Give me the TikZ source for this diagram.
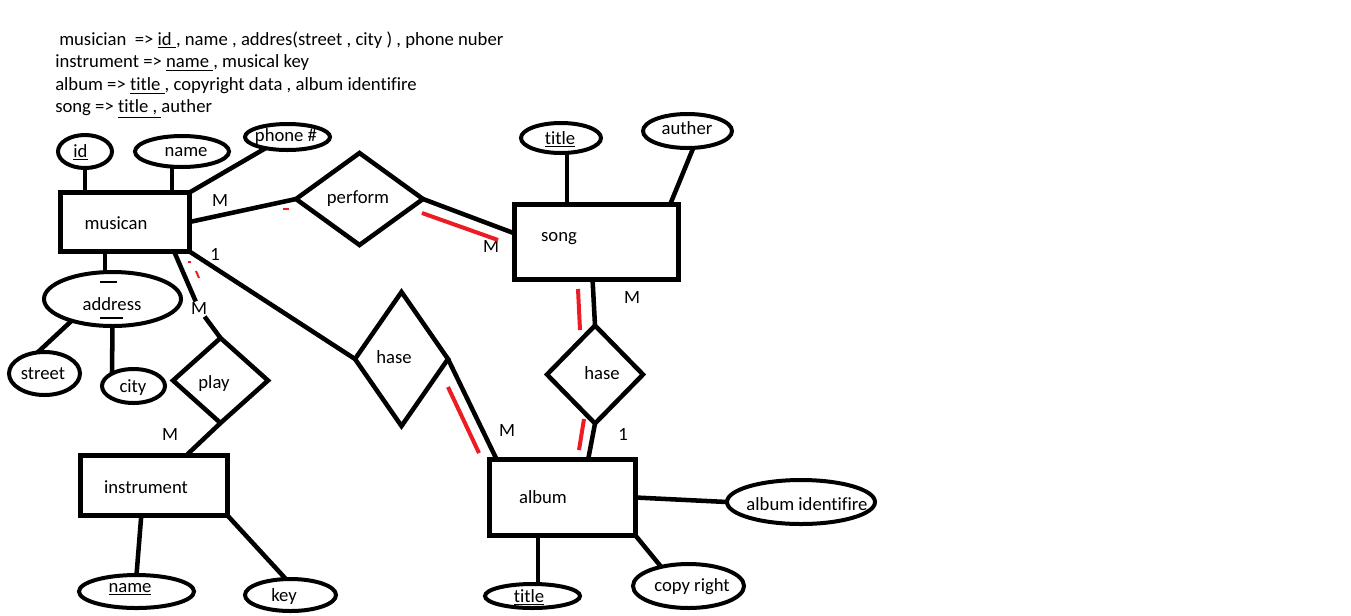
\documentclass[tikz,border=0pt]{standalone}
\usepackage{fontspec}
\setmainfont{Carlito}[Ligatures=NoCommon]
\usepackage{tikz}
\usetikzlibrary{positioning, shapes.geometric}
\definecolor{ERred}{HTML}{ED1C24}

\begin{document}
\begin{tikzpicture}[
  x=0.75pt, y=-0.75pt,
  font=\fontsize{14pt}{17pt}\selectfont,
  entity/.style={draw, line width=3.6pt, inner sep=0pt, outer sep=0pt},
  attr/.style={draw, ellipse, line width=3pt, inner sep=0pt, outer sep=0pt},
  rel/.style={draw, diamond, line width=3.4pt, inner sep=0pt, outer sep=0pt},
  txt/.style={inner sep=0pt},
  card/.style={inner sep=1pt},
  hdr/.style={anchor=west, inner sep=0pt},
  conn/.style={line width=3.4pt},
  partline/.style={ERred, line width=3pt},
  scrap/.style={line width=1.5pt},
]
\fill[white] (0,0) rectangle (1351,615);
\useasboundingbox (0,0) rectangle (1351,615);

\node[hdr] (hdrMusician) at (59,40)
  {musician\ \ => \underline{id\ }, name , addres(street , city ) , phone nuber};
\node[hdr] (hdrInstrument) at (55,63) {instrument => \underline{name\ }, musical key};
\node[hdr] (hdrAlbum) at (55,86) {album => \underline{title\ }, copyright data , album identifire};
\node[hdr] (hdrSong) at (55,109) {song => \underline{title ,\ }auther};

\node[entity, minimum width=96.75pt, minimum height=44.25pt] (musician) at (125,222) {};
\node[txt] (musicianTxt) at (116,223) {musican};
\node[entity, minimum width=123pt, minimum height=56.25pt] (song) at (596.5,242) {};
\node[txt] (songTxt) at (559,239) {song};
\node[entity, minimum width=109.5pt, minimum height=57pt] (album) at (562.5,497.5) {};
\node[txt] (albumTxt) at (543,497) {album};
\node[entity, minimum width=110.25pt, minimum height=45pt] (instrument) at (154,485.5) {};
\node[txt] (instrumentTxt) at (146,487) {instrument};

\node[attr, minimum width=40.5pt, minimum height=24.75pt] (id) at (85,151.5) {};
\node[txt] (idTxt) at (80.5,152) {\underline{id}};
\node[attr, minimum width=70.5pt, minimum height=23.25pt] (name) at (182,151.5) {};
\node[txt] (nameTxt) at (186,152) {name};
\node[attr, minimum width=63.75pt, minimum height=19.5pt] (phone) at (287.5,137) {};
\node[txt] (phoneTxt) at (286,137) {phone \#};
\node[attr, minimum width=102.75pt, minimum height=40.5pt] (address) at (112.5,299) {};
\node[txt] (addressTxt) at (112,304) {address};
\node[attr, minimum width=53.25pt, minimum height=32.25pt] (street) at (44.5,373.5) {};
\node[txt] (streetTxt) at (43,374) {street};
\node[attr, minimum width=47.25pt, minimum height=25.5pt] (city) at (133.5,386) {};
\node[txt] (cityTxt) at (133,388) {city};
\node[attr, minimum width=60pt, minimum height=22.5pt] (songTitle) at (561,138) {};
\node[txt] (songTitleTxt) at (560,139) {\underline{title}};
\node[attr, minimum width=66.75pt, minimum height=25.5pt] (auther) at (687.5,131) {};
\node[txt] (autherTxt) at (687,128) {auther};
\node[attr, minimum width=86.25pt, minimum height=24.75pt] (instName) at (136.5,591.5) {};
\node[txt] (instNameTxt) at (130,589) {\underline{name}};
\node[attr, minimum width=68.25pt, minimum height=24pt] (key) at (290.5,595) {};
\node[txt] (keyTxt) at (284,597) {key};
\node[attr, minimum width=71.25pt, minimum height=18pt] (albumTitle) at (532.5,596) {};
\node[txt] (albumTitleTxt) at (529,597) {\underline{title}};
\node[attr, minimum width=83.25pt, minimum height=33pt] (copyRight) at (688.5,586) {};
\node[txt] (copyRightTxt) at (692,587) {copy right};
\node[attr, minimum width=111pt, minimum height=33pt] (albumId) at (801,502) {};
\node[txt] (albumIdTxt) at (807,504) {album identifire};

\node[rel, minimum width=95.25pt, minimum height=69pt] (perform) at (359.5,199) {};
\node[txt] (performTxt) at (358,199) {perform};
\node[rel, minimum width=69.75pt, minimum height=100.5pt] (haseMA) at (401.5,359) {};
\node[txt] (haseMATxt) at (394,357) {hase};
\node[rel, minimum width=72pt, minimum height=73.5pt] (haseSA) at (595,374.5) {};
\node[txt] (haseSATxt) at (602,373) {hase};
\node[rel, minimum width=71.25pt, minimum height=63.75pt] (play) at (220.5,380.5) {};
\node[txt] (playTxt) at (214,384) {play};

\node[card] (mPerform) at (220,201) {M};
\node[card] (oneHase) at (215,254) {1};
\node[card] (mPlay) at (199,309) {M};
\node[card] (mInstrument) at (170,434) {M};
\node[card] (mSong) at (491,247) {M};
\node[card] (mSongHase) at (632,298) {M};
\node[card] (oneAlbum) at (623,434) {1};
\node[card] (mAlbum) at (507,430) {M};

\draw[conn] (id.south) -- (id.south |- musician.north);
\draw[conn] ([xshift=-7.5pt]name.south) -- ([xshift=-7.5pt]name.south |- musician.north);
\draw[conn] (musician.north east) -- (phone.-153);
\draw[conn] (musician.east) -- (perform.west);
\draw[conn] (perform.east) -- (song.174);
\draw[conn] (musician.south east) -- (haseMA.west);
\draw[conn] (haseMA.east) -- (album.150);
\draw[conn] (song.264) -- (haseSA.north);
\draw[conn] (haseSA.south) -- (album.56);
\draw[conn] (musician.-31.6) -- (mPlay);
\draw[conn] (mPlay) -- (play.north);
\draw[conn] (play.south) -- (instrument.43);
\draw[conn] ([xshift=-5.6pt]address.north) -- ([xshift=-5.6pt]address.north |- musician.south);
\draw[conn] (address.-152) -- (street.108);
\draw[conn] (address.south) -- (city.150);
\draw[conn] ([xshift=4.5pt]songTitle.south) -- ([xshift=4.5pt]songTitle.south |- song.north);
\draw[conn] (auther.-71) -- (song.27);
\draw[conn] (instrument.-113) -- (instName.north);
\draw[conn] (instrument.south east) -- (key.106);
\draw[conn] ([xshift=4pt]albumTitle.north) -- ([xshift=4pt]albumTitle.north |- album.south);
\draw[conn] (album.south east) -- (copyRight.145);
\draw[conn] (album.east) -- (albumId.west);

\draw[partline] (422,213) -- (498,240);
\draw[partline] (578,289) -- (580,330);
\draw[partline] (584,419) -- (579,450);
\draw[partline] (448,387) -- (479,453);
\draw[ERred, line width=1.5pt] (283,209) -- (289,209);
\draw[ERred, line width=1.5pt] (188,262) -- (191,262);
\draw[ERred, line width=1.5pt] (196,271) -- (199,278);
\draw[scrap] (100,282) -- (117,282);
\draw[scrap] (100,318) -- (123,318);
\end{tikzpicture}
\end{document}
